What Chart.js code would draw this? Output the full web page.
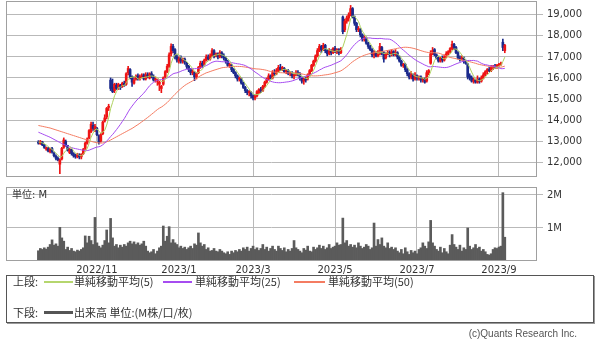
<!DOCTYPE html>
<html>
<head>
<meta charset="utf-8">
<script src="https://cdn.jsdelivr.net/npm/chart.js@4.4.0/dist/chart.umd.min.js"></script>
<style>
  body { margin:0; background:#fff; width:600px; height:342px; position:relative; overflow:hidden; }
  canvas { position:absolute; left:0; }
  #price { top:0; }
  #vol { top:180px; }
  .unit { position:absolute; left:12px; top:189px; font:10px "DejaVu Sans","Noto Sans CJK JP",sans-serif; color:#333; line-height:12px; }
  #legend { position:absolute; left:6px; top:275px; width:588px; height:48px; box-sizing:border-box;
            border:1px solid #555; box-shadow:1px 1px 0 #999; font:11px "Noto Sans CJK JP",sans-serif; color:#333; }
  #legend span { position:absolute; line-height:14px; white-space:nowrap; }
  #legend i { position:absolute; display:block; height:2px; }
  .copy { position:absolute; right:23px; top:327px; font:10px "Liberation Sans",sans-serif; color:#555; line-height:14px; }
</style>
</head>
<body>
<canvas id="price" width="600" height="180"></canvas>
<canvas id="vol" width="600" height="100"></canvas>
<div class="unit">単位: M</div>
<div id="legend">
  <span style="left:6px;top:-2px">上段:</span>
  <i style="left:37px;top:5px;width:29px;background:#b5d66e"></i>
  <span style="left:67px;top:-2px">単純移動平均(5)</span>
  <i style="left:156px;top:5px;width:29px;background:#a64cf0"></i>
  <span style="left:188px;top:-2px">単純移動平均(25)</span>
  <i style="left:287px;top:5px;width:31px;background:#f47c62"></i>
  <span style="left:321px;top:-2px">単純移動平均(50)</span>
  <span style="left:6px;top:29px">下段:</span>
  <i style="left:37px;top:35px;width:29px;height:3px;background:#555"></i>
  <span style="left:67px;top:29px">出来高 単位:(M株/口/枚)</span>
</div>
<div class="copy">(c)Quants Research Inc.</div>
<script>
// daily bars, mid Sep 2022 .. early Sep 2023
const opens = [
  12950,12880,12960,12800,12620,12640,12500,12640,12420,12280,
  12180,11900,12150,12700,12980,12780,12450,12600,12400,12300,
  12250,12350,12250,12400,12650,12900,13150,13450,13750,13550,
  13600,13250,13000,13350,13950,14150,14600,15900,15550,15400,
  15650,15550,15650,15600,15750,15700,16250,16400,16050,15750,
  15950,16100,15950,16050,16150,15950,16150,16000,16200,16050,
  15900,15850,15700,15500,15700,16050,16300,16550,17150,17500,
  17350,17000,16800,16950,16800,16900,16700,16550,16400,16250,
  16250,16050,16250,16500,16700,16650,16850,17000,16900,17050,
  17300,17050,17150,17000,17200,17050,16950,16800,16600,16600,
  16400,16250,16100,15950,15950,15750,15550,15400,15300,15300,
  15150,15050,15150,15300,15450,15400,15600,15800,15950,16100,
  16000,16250,16200,16350,16500,16400,16450,16300,16350,16200,
  16250,16100,16150,16250,16200,16000,15850,15950,15950,16150,
  16350,16600,16800,17050,17300,17500,17350,17550,17300,17150,
  17300,17200,17400,17250,17350,17200,18900,18300,18700,18850,
  19000,19300,18900,18600,18300,18300,18050,17850,17900,17650,
  17500,17350,17100,17200,17050,17150,17450,17200,16950,17150,
  17200,17100,17250,17100,17200,17000,16800,16600,16650,16400,
  16200,16050,16150,15950,16100,16000,16050,15900,15950,15850,
  16250,16700,17150,17350,17100,16950,16800,16950,16850,17000,
  17150,17250,17400,17600,17450,17200,16950,16900,16950,16800,
  16650,16100,16000,15850,15900,15800,15950,15850,16000,16150,
  16300,16400,16350,16500,16550,16500,16600,16650,17700,17300
];
const highs = [
  13020,13030,12990,12850,12720,12700,12660,12700,12480,12340,
  12250,12150,12700,13150,13050,12800,12650,12620,12450,12380,
  12420,12400,12400,12650,12950,13150,13550,13900,13900,13800,
  13650,13300,13350,13950,14250,14600,14750,16000,15950,15750,
  15750,15750,15700,15800,15850,16250,16550,16450,16100,16000,
  16150,16200,16150,16200,16200,16250,16250,16250,16300,16150,
  16050,15950,15850,15650,16050,16350,16650,17200,17620,17600,
  17400,17100,17000,17050,16950,16950,16750,16600,16450,16400,
  16300,16250,16550,16800,16800,16900,17100,17100,17150,17400,
  17350,17200,17200,17300,17250,17150,17000,16850,16700,16650,
  16450,16300,16150,16050,16000,15800,15600,15450,15400,15350,
  15200,15200,15400,15500,15550,15650,15850,16000,16200,16150,
  16350,16400,16450,16600,16650,16550,16500,16400,16400,16300,
  16300,16200,16350,16350,16250,16050,16000,16050,16200,16400,
  16650,16850,17100,17400,17600,17550,17650,17600,17350,17400,
  17350,17450,17500,17400,17400,17450,18950,18800,18950,19100,
  19450,19350,18950,18650,18450,18350,18100,18000,17950,17700,
  17550,17400,17300,17250,17300,17650,17500,17250,17200,17300,
  17300,17350,17300,17350,17250,17050,16850,16700,16700,16450,
  16250,16300,16200,16250,16150,16100,16100,16000,16000,16350,
  16400,17300,17450,17400,17150,17000,17000,17050,17100,17250,
  17300,17450,17750,17650,17500,17250,17050,17050,17000,16850,
  16700,16200,16100,16000,15950,16100,16000,16100,16250,16350,
  16450,16500,16600,16600,16650,16650,16700,16750,17850,17600
];
const lows = [
  12850,12840,12780,12650,12560,12480,12440,12420,12240,12100,
  12050,11450,12100,12650,12750,12520,12400,12330,12230,12180,
  12200,12150,12150,12350,12600,12850,13100,13400,13500,13450,
  13250,12850,12950,13300,13900,14050,14450,15400,15300,15300,
  15450,15450,15450,15550,15600,15650,16150,15950,15600,15700,
  15900,15900,15900,16000,15900,15900,16000,15950,16000,15850,
  15800,15650,15400,15300,15650,16000,16250,16500,17050,17200,
  16900,16750,16700,16700,16700,16650,16450,16300,16150,16150,
  15870,15950,16200,16450,16500,16600,16800,16850,16850,17000,
  16950,17000,16900,16950,16950,16850,16700,16550,16500,16300,
  16200,16000,15850,15850,15700,15500,15300,15200,15150,15050,
  14950,14950,15100,15250,15300,15350,15550,15750,15900,15950,
  15950,16100,16150,16300,16350,16350,16250,16200,16150,16100,
  16000,15950,16100,16100,15900,15750,15700,15800,15900,16100,
  16300,16550,16750,17000,17250,17200,17300,17200,17050,17100,
  17100,17150,17200,17150,17100,17150,18100,18200,18600,18700,
  18950,18850,18500,18200,18200,17950,17750,17750,17600,17400,
  17300,17000,16950,17000,17000,17100,17100,16750,16900,17100,
  17000,17050,17050,17050,16900,16750,16550,16500,16300,16100,
  15950,15950,15850,15900,15900,15900,15800,15800,15750,15800,
  16150,16650,17100,17050,16900,16750,16750,16750,16800,16950,
  17100,17200,17350,17350,17150,16900,16800,16850,16700,16650,
  15950,15900,15800,15750,15750,15750,15750,15800,15950,16100,
  16200,16300,16300,16400,16450,16450,16550,16600,17300,17200
];
const closes = [
  12900,12980,12820,12700,12680,12520,12620,12480,12300,12180,
  12100,12100,12650,13050,12800,12550,12600,12400,12300,12250,
  12350,12250,12350,12600,12900,13100,13500,13800,13600,13700,
  13300,12950,13300,13900,14100,14550,14650,15500,15350,15700,
  15500,15700,15550,15750,15650,16200,16450,16050,15800,15900,
  16050,15950,16050,16100,15950,16150,16050,16200,16100,15900,
  15950,15900,15800,15600,16000,16300,16550,17100,17500,17300,
  17000,16850,16900,16800,16900,16750,16550,16400,16250,16300,
  16050,16200,16500,16700,16600,16850,17000,16900,17050,17300,
  17050,17150,17000,17200,17050,16950,16800,16600,16650,16400,
  16250,16100,15950,16000,15750,15550,15400,15300,15350,15150,
  15050,15150,15350,15450,15400,15600,15800,15950,16100,16000,
  16250,16200,16350,16500,16400,16500,16300,16350,16200,16250,
  16100,16150,16250,16200,16000,15850,15950,15900,16150,16350,
  16600,16800,17050,17300,17500,17350,17550,17300,17150,17300,
  17200,17400,17250,17350,17200,17350,18200,18700,18850,19000,
  19300,18900,18600,18300,18350,18050,17850,17900,17650,17500,
  17350,17100,17200,17050,17150,17500,17200,16900,17150,17200,
  17100,17250,17100,17200,17000,16800,16600,16650,16400,16200,
  16050,16150,15950,16100,16000,16050,15900,15950,15800,16250,
  16350,17150,17300,17100,16950,16800,16950,16850,17000,17150,
  17250,17400,17600,17450,17200,16950,16900,16950,16800,16700,
  16050,16000,15850,15900,15800,15950,15850,16000,16150,16300,
  16400,16350,16500,16550,16500,16600,16650,16700,17450,17550
];
// volume, millions
const volumes = [
  0.31,0.38,0.35,0.40,0.36,0.42,0.50,0.64,0.48,0.52,
  0.45,1.02,0.70,0.60,0.35,0.42,0.32,0.38,0.30,0.28,
  0.33,0.30,0.35,0.40,0.76,0.55,0.75,0.62,0.50,1.32,
  0.55,0.45,0.40,0.48,0.62,0.94,0.55,1.29,0.70,0.45,
  0.50,0.40,0.48,0.42,0.50,0.45,0.55,0.60,0.52,0.58,
  0.50,0.55,0.48,0.52,0.60,0.45,0.30,0.25,0.28,0.35,
  0.22,0.30,0.40,0.45,1.06,0.60,0.75,1.04,0.55,0.65,
  0.55,0.50,0.40,0.45,0.38,0.42,0.35,0.40,0.45,0.38,
  0.52,0.48,0.85,0.55,0.45,0.50,0.35,0.40,0.30,0.32,
  0.38,0.30,0.28,0.35,0.30,0.25,0.22,0.28,0.20,0.30,
  0.25,0.32,0.28,0.35,0.30,0.40,0.35,0.42,0.30,0.38,
  0.45,0.35,0.40,0.32,0.38,0.50,0.35,0.42,0.30,0.38,
  0.45,0.35,0.30,0.45,0.38,0.32,0.40,0.28,0.35,0.30,
  0.38,0.62,0.40,0.35,0.30,0.25,0.38,0.33,0.45,0.30,
  0.28,0.42,0.35,0.40,0.48,0.38,0.45,0.35,0.40,0.50,
  0.38,0.42,0.45,0.55,0.48,0.50,1.30,0.55,0.62,0.45,
  0.50,0.42,0.48,0.40,0.55,0.45,0.38,0.42,0.50,0.45,
  0.35,0.40,1.15,0.45,0.65,0.50,0.70,0.45,0.40,0.55,
  0.38,0.42,0.35,0.40,0.30,0.25,0.35,0.22,0.40,0.28,
  0.20,0.32,0.25,0.30,0.22,0.35,0.40,0.55,0.45,0.38,
  0.58,1.23,0.55,0.45,0.35,0.30,0.42,0.25,0.38,0.28,
  0.22,0.48,0.80,0.50,0.42,0.35,0.48,0.30,0.40,0.35,
  1.00,0.45,0.35,0.40,0.50,0.38,0.42,0.30,0.35,0.28,
  0.20,0.18,0.22,0.35,0.40,0.38,0.42,0.45,2.07,0.72
];
// moving-average values before enough bars exist
const ma5Lead = [12950,12940,12910,12870];
const ma25Lead = [
  13420,13380,13340,13300,13260,13220,13180,13130,13080,13030,
  12980,12930,12880,12840,12800,12760,12720,12690,12660,12640,
  12620,12600,12580,12570
];
const ma50Lead = [
  13740,13720,13700,13680,13660,13640,13620,13590,13560,13530,
  13500,13470,13440,13410,13380,13350,13320,13290,13260,13230,
  13200,13170,13140,13110,13080,13050,13020,12990,12960,12940,
  12920,12910,12900,12910,12930,12960,13000,13050,13100,13150,
  13200,13250,13300,13350,13400,13450,13500,13550,13600
];
// month gridlines (bar index of first trading day)
const monthIdx = [30, 72, 110, 152, 194, 236];
const monthLabels = ['2022/11', '2023/1', '2023/3', '2023/5', '2023/7', '2023/9'];
const priceTicks = [12000, 13000, 14000, 15000, 16000, 17000, 18000, 19000];
const volTicks = [1, 2];

const X_MIN = -16.6, X_MAX = 255.5;
const GRID = '#b9b9b9';
const UP = '#ee1414', DOWN = '#1b2a8c';

function sma(n, lead){
  return closes.map((c, i)=>{
    if(i < n - 1) return lead[i];
    let s = 0;
    for(let k = i - n + 1; k <= i; k++) s += closes[k];
    return s / n;
  });
}
const pts = arr => arr.map((v, i)=>({x:i, y:v}));
const colors = closes.map((c, i)=> c >= opens[i] ? UP : DOWN);

// outline round the plot area
const frame = {
  id:'frame',
  afterDraw(chart){
    const {ctx, chartArea:a} = chart;
    ctx.save();
    ctx.strokeStyle = '#a0a0a0';
    ctx.lineWidth = 1;
    ctx.strokeRect(Math.round(a.left)+0.5, Math.round(a.top)+0.5, Math.round(a.right-a.left)-1, Math.round(a.bottom-a.top)-1);
    ctx.restore();
  }
};

// no automatic label padding, the layout paddings set the plot box
const noPad = s=>{ s.paddingTop = 0; s.paddingBottom = 0; s.paddingLeft = 0; s.paddingRight = 0; };

const xScale = (showLabels, h)=>({
  type:'linear', min:X_MIN, max:X_MAX, offset:false,
  afterBuildTicks: s=>{ s.ticks = monthIdx.map(v=>({value:v})); },
  afterFit: s=>{ s.height = h; noPad(s); },
  grid:{ color:GRID, drawTicks:false, offset:false },
  border:{ display:false },
  ticks:{ display:showLabels, autoSkip:false, maxRotation:0, padding:3, color:'#333',
          font:{family:'DejaVu Sans', size:10}, callback:(v, i)=>monthLabels[i] }
});

const yScale = (min, max, ticks, fmt)=>({
  position:'right', min, max,
  afterBuildTicks: s=>{ s.ticks = ticks.map(v=>({value:v})); },
  afterFit: s=>{ s.width = 63; noPad(s); },
  grid:{ color:GRID, tickLength:6 },
  border:{ display:false },
  ticks:{ padding:4, color:'#333', font:{family:'DejaVu Sans', size:10}, callback:fmt }
});

new Chart(document.getElementById('price'), {
  type:'bar',
  data:{ datasets:[
    { type:'line', data:pts(sma(5, ma5Lead)), borderColor:'#aed25f', borderWidth:1, pointRadius:0, tension:0, order:0 },
    { type:'line', data:pts(sma(25, ma25Lead)), borderColor:'#a64cf0', borderWidth:1, pointRadius:0, tension:0, order:0 },
    { type:'line', data:pts(sma(50, ma50Lead)), borderColor:'#f47c62', borderWidth:1, pointRadius:0, tension:0, order:0 },
    { data:closes.map((c, i)=>({x:i, y:[opens[i], c]})), backgroundColor:colors, barThickness:2, minBarLength:1, grouped:false, order:1 },
    { data:closes.map((c, i)=>({x:i, y:[lows[i], highs[i]]})), backgroundColor:colors, barThickness:1, grouped:false, order:2 }
  ]},
  options:{
    responsive:false, animation:false, events:[],
    layout:{ padding:{ left:6, top:1, right:0, bottom:0 } },
    plugins:{ legend:{display:false}, tooltip:{enabled:false} },
    scales:{
      x: xScale(false, 3),
      y: yScale(11290, 19660, priceTicks, v=>v.toLocaleString('en-US'))
    }
  },
  plugins:[frame]
});

new Chart(document.getElementById('vol'), {
  type:'bar',
  data:{ datasets:[
    { data:pts(volumes), backgroundColor:'#5b5b5b', barThickness:2, grouped:false }
  ]},
  options:{
    responsive:false, animation:false, events:[],
    layout:{ padding:{ left:6, top:7, right:0, bottom:0 } },
    plugins:{ legend:{display:false}, tooltip:{enabled:false} },
    scales:{
      x: xScale(true, 19),
      y: yScale(0, 2.242, volTicks, v=>v + 'M')
    }
  },
  plugins:[frame]
});
</script>
</body>
</html>
